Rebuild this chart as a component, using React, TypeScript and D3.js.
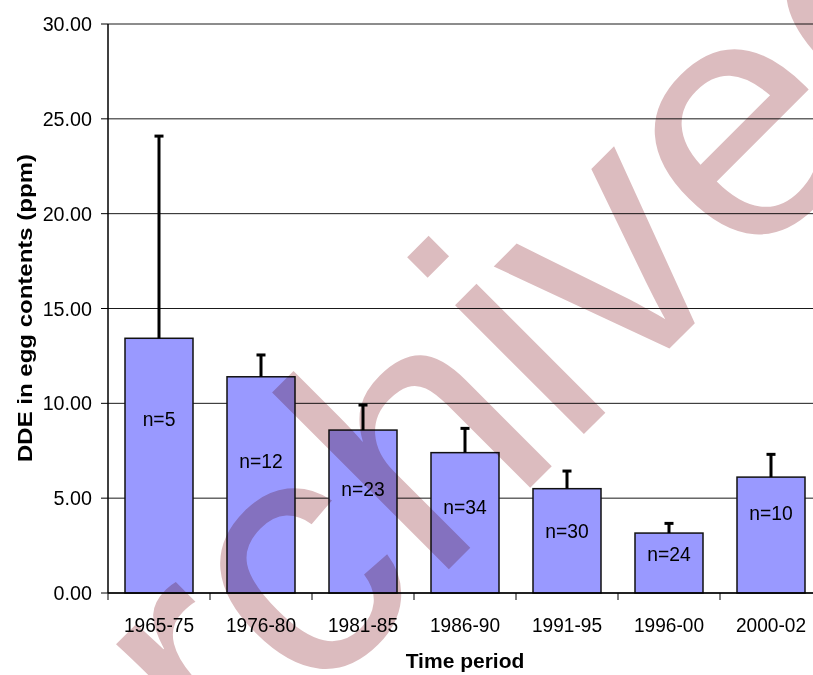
import React from "react";
import * as d3 from "d3";

const categories = ["1965-75", "1976-80", "1981-85", "1986-90", "1991-95", "1996-00", "2000-02"];
const means = [13.43, 11.4, 8.59, 7.4, 5.5, 3.16, 6.11];
const errorUp = [10.66, 1.15, 1.32, 1.28, 0.93, 0.51, 1.2];
const sampleLabels = ["n=5", "n=12", "n=23", "n=34", "n=30", "n=24", "n=10"];
const sampleLabelValues = [9.2, 6.98, 5.52, 4.55, 3.32, 2.07, 4.27];
const yTicks = [0, 5, 10, 15, 20, 25, 30];
const watermark = "Archived";

const W = 813;
const H = 675;
const FONT = "'Liberation Sans', Arial, Helvetica, sans-serif";

export default function App() {
  const x = d3
    .scaleBand<string>()
    .domain(categories)
    .range([108, 822])
    .paddingInner(1 / 3)
    .paddingOuter(1 / 6);
  const y = d3.scaleLinear().domain([0, 30]).range([593, 24]);
  const step = x.step();
  const fmt = d3.format(".2f");

  return (
    <svg
      width={W}
      height={H}
      style={{ position: "absolute", left: 0, top: 0, fontFamily: FONT }}
    >
      <rect x={0} y={0} width={W} height={H} fill="#ffffff" />

      {/* gridlines */}
      {yTicks.map((t) => (
        <line
          key={"g" + t}
          x1={108}
          x2={822}
          y1={y(t)}
          y2={y(t)}
          stroke="#1a1a1a"
          strokeWidth={1}
        />
      ))}

      {/* bars */}
      {categories.map((c, i) => (
        <rect
          key={"b" + c}
          x={x(c)}
          y={y(means[i])}
          width={x.bandwidth()}
          height={y(0) - y(means[i])}
          fill="#9999ff"
          stroke="#111"
          strokeWidth={1.5}
        />
      ))}

      {/* error bars */}
      {categories.map((c, i) => {
        const cx = (x(c) as number) + x.bandwidth() / 2;
        const top = y(means[i] + errorUp[i]);
        return (
          <g key={"e" + c} stroke="#000" strokeWidth={3}>
            <line x1={cx} x2={cx} y1={y(means[i])} y2={top} />
            <line x1={cx - 4.5} x2={cx + 4.5} y1={top} y2={top} />
          </g>
        );
      })}

      {/* sample size labels */}
      {categories.map((c, i) => {
        const cx = (x(c) as number) + x.bandwidth() / 2;
        return (
          <g key={"n" + c} transform={`translate(${cx},${y(sampleLabelValues[i]) + 7.5}) scale(0.92,1)`}>
            <text textAnchor="middle" fontSize={21} fill="#000">
              {sampleLabels[i]}
            </text>
          </g>
        );
      })}

      {/* y axis */}
      <line x1={108} x2={108} y1={24} y2={593} stroke="#000" strokeWidth={1.5} />
      {yTicks.map((t) => (
        <g key={"yt" + t}>
          <line x1={101} x2={108} y1={y(t)} y2={y(t)} stroke="#000" strokeWidth={1} />
          <g transform={`translate(92,${y(t) + 7}) scale(0.94,1)`}>
            <text textAnchor="end" fontSize={21} fill="#000">
              {fmt(t)}
            </text>
          </g>
        </g>
      ))}

      {/* x axis */}
      <line x1={108} x2={822} y1={593} y2={593} stroke="#000" strokeWidth={1.5} />
      {categories.map((c, i) => (
        <line
          key={"xt" + c}
          x1={108 + i * step}
          x2={108 + i * step}
          y1={593}
          y2={600}
          stroke="#000"
          strokeWidth={1}
        />
      ))}
      {categories.map((c) => (
        <g
          key={"xl" + c}
          transform={`translate(${(x(c) as number) + x.bandwidth() / 2},631.5) scale(0.91,1)`}
        >
          <text textAnchor="middle" fontSize={21} fill="#000">
            {c}
          </text>
        </g>
      ))}

      {/* axis titles */}
      <text x={465} y={668} textAnchor="middle" fontSize={21} fontWeight="bold" fill="#000">
        Time period
      </text>
      <g transform="translate(32,308) rotate(-90)">
        <text
          textAnchor="middle"
          fontSize={20}
          fontWeight="bold"
          fill="#000"
          textLength={308}
          lengthAdjust="spacingAndGlyphs"
        >
          DDE in egg contents (ppm)
        </text>
      </g>

      {/* watermark */}
      <g transform="translate(66,952) rotate(-45)" style={{ mixBlendMode: "multiply" }}>
        <text fontSize={345} fill="#dcbcbf" fontFamily={FONT}>
          {watermark}
        </text>
      </g>
    </svg>
  );
}
